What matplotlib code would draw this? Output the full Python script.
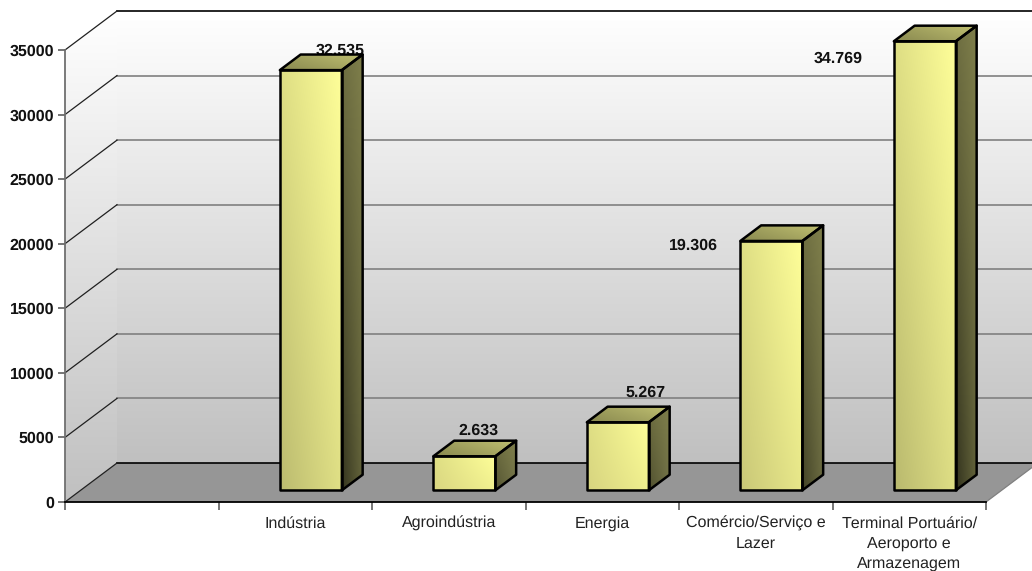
import numpy as np
import matplotlib
matplotlib.use("Agg")
import matplotlib.pyplot as plt
from matplotlib.patches import Polygon

plt.rcParams['font.family'] = ['Liberation Sans', 'DejaVu Sans']
plt.rcParams['text.hinting'] = 'none'
plt.rcParams['text.hinting_factor'] = 1

categories = ['', 'Indústria', 'Agroindústria', 'Energia',
              'Comércio/Serviço e\nLazer',
              'Terminal Portuário/\nAeroporto e\nArmazenagem']
values = [None, 32535, 2633, 5267, 19306, 34769]
value_labels = ['', '32.535', '2.633', '5.267', '19.306', '34.769']
y_ticks = [0, 5000, 10000, 15000, 20000, 25000, 30000, 35000]

# label placement, pixels away from the top of the bar's slot
label_offsets = [None, (45, 31), (30, 37), (43, 41), (-62, 7), (-71, -6)]

# 3d look: how far the back of the floor sits from the front, in data units
DEPTH_X = 52 / 153.5
DEPTH_Y = 39 / 452 * 35000
BAR_WIDTH = 0.404
BAR_NEAR = 0.3
BAR_FAR = 0.7

fig = plt.figure(figsize=(10.32, 5.71), dpi=100)
ax = fig.add_axes([65 / 1032, 69 / 571, 921 / 1032, 452 / 571])
ax.patch.set_visible(False)


def back(x, y, depth=1.0):
    return x + depth * DEPTH_X, y + depth * DEPTH_Y


def hexrgb(color):
    return np.array(matplotlib.colors.to_rgb(color))


def shade(points, bl, br, tl, tr, zorder):
    # four corner colours blended over the polygon's bounding box
    xs = [p[0] for p in points]
    ys = [p[1] for p in points]
    u = np.linspace(0, 1, 80)[None, :, None]
    v = np.linspace(0, 1, 80)[:, None, None]
    bottom = hexrgb(bl) * (1 - u) + hexrgb(br) * u
    top = hexrgb(tl) * (1 - u) + hexrgb(tr) * u
    img = bottom * (1 - v) + top * v
    im = ax.imshow(img, extent=(min(xs), max(xs), min(ys), max(ys)), origin='lower',
                   aspect='auto', interpolation='bilinear', zorder=zorder)
    im.set_clip_box(fig.bbox)
    im.set_clip_path(Polygon(points, transform=ax.transData))


top_val = y_ticks[-1]
n = len(categories)

# walls and floor
shade([(0, 0), back(0, 0), back(0, top_val), (0, top_val)],
      '#c0c0c0', '#c0c0c0', '#ffffff', '#ffffff', 1)
shade([back(0, 0), back(n, 0), back(n, top_val), back(0, top_val)],
      '#c0c0c0', '#c0c0c0', '#ffffff', '#ffffff', 1)
ax.add_patch(Polygon([(0, 0), (n, 0), back(n, 0), back(0, 0)], closed=True,
                     fc='#969696', ec='none', zorder=2, clip_on=False))

for t in y_ticks:
    x0, y0 = back(0, t)
    x1, y1 = back(n, t)
    edge = t in (0, top_val)
    ax.plot([x0, x1], [y0, y1], color='black' if edge else '#808080',
            lw=1.2, zorder=3, clip_on=False)
    ax.plot([0, x0], [t, y0], color='#202020', lw=0.9, zorder=3, clip_on=False)

# right hand edge of the floor
ax.plot([n, back(n, 0)[0]], [0, back(n, 0)[1]], color='#808080', lw=0.9, zorder=3, clip_on=False)

# value labels go under the bars, the first one is partly hidden in the original
for i, val in enumerate(values):
    if val is None:
        continue
    ax.annotate(value_labels[i], xy=(i + 0.5, val), xytext=label_offsets[i],
                textcoords='offset pixels', ha='center', va='center',
                fontsize=11.4, fontweight='bold', color='#111111', zorder=4,
                annotation_clip=False)

for i, val in enumerate(values):
    if val is None:
        continue
    xl, yb = back(i + 0.5 - BAR_WIDTH / 2, 0, BAR_NEAR)
    xr = xl + BAR_WIDTH
    yt = yb + val
    dx = (BAR_FAR - BAR_NEAR) * DEPTH_X
    dy = (BAR_FAR - BAR_NEAR) * DEPTH_Y
    t = val / top_val
    mix = lambda a, b: hexrgb(a) * (1 - t) + hexrgb(b) * t

    front = [(xl, yb), (xr, yb), (xr, yt), (xl, yt)]
    side = [(xr, yb), (xr + dx, yb + dy), (xr + dx, yt + dy), (xr, yt)]
    lid = [(xl, yt), (xr, yt), (xr + dx, yt + dy), (xl + dx, yt + dy)]

    shade(front, mix('#ddd983', '#b9b96e'), mix('#f2f290', '#dfdf85'), '#dede84', '#ffff99', 5)
    shade(side, mix('#565632', '#33331e'), mix('#74744a', '#63633a'), '#6f6f42', '#7f7f4b', 5)
    shade(lid, '#8a8a50', '#a8a862', '#9c9c5c', '#c2c272', 5)
    for face in (front, side, lid):
        ax.add_patch(Polygon(face, closed=True, fc='none', ec='black', lw=1.8,
                             joinstyle='round', zorder=6, clip_on=False))

ax.set_xlim(0, n)
ax.set_ylim(0, top_val)

for name in ('top', 'right'):
    ax.spines[name].set_visible(False)
ax.spines['left'].set_color('#707070')
ax.spines['left'].set_linewidth(1.3)
ax.spines['bottom'].set_color('black')
ax.spines['bottom'].set_linewidth(1.3)
for spine in ax.spines.values():
    spine.set_zorder(7)

ax.set_yticks(y_ticks)
ax.set_yticklabels([str(t) for t in y_ticks], fontsize=11.4, fontweight='bold', color='#111111')
ax.tick_params(axis='y', length=5.2, width=1.1, color='#505050', pad=2.5)

ax.set_xticks(range(n + 1))
ax.set_xticklabels([])
ax.tick_params(axis='x', which='major', length=5.8, width=1.1, color='#505050')
ax.set_xticks(np.arange(n) + 0.5, minor=True)
ax.set_xticklabels(categories, minor=True, fontsize=11.4, color='#222222', linespacing=1.43)
ax.tick_params(axis='x', which='minor', length=0, pad=10)

fig.savefig('out.png', dpi=100)
